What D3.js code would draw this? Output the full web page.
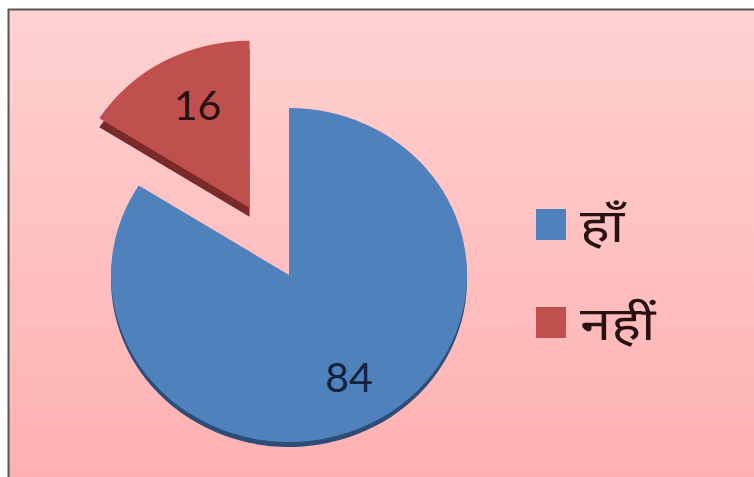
<!DOCTYPE html>
<html>
<head>
<meta charset="utf-8">
<script src="https://cdn.jsdelivr.net/npm/d3@7"></script>
<style>
  body { margin: 0; background: #fff; }
  svg { display: block; }
</style>
</head>
<body>
<svg id="chart" width="754" height="477"></svg>
<script>
// data
const categories = ["हाँ", "नहीं"];
const values = [84, 16];
const colors = ["#4f81bd", "#c0504d"];
const sideColors = ["#2b4d78", "#7a2b29"];

var svg = d3.select("#chart");
var W = 754, H = 477;

var defs = svg.append("defs");
var bg = defs.append("linearGradient").attr("id", "bg")
  .attr("x1", 0).attr("y1", 0).attr("x2", 0).attr("y2", 1);
bg.append("stop").attr("offset", "0%").attr("stop-color", "#ffd1d1");
bg.append("stop").attr("offset", "100%").attr("stop-color", "#ffb1b1");

svg.append("rect").attr("x", 8).attr("y", 9).attr("width", W - 8).attr("height", H - 9)
  .attr("fill", "url(#bg)");
svg.append("line").attr("x1", 8).attr("y1", 9.5).attr("x2", W).attr("y2", 9.5)
  .attr("stroke", "#555").attr("stroke-width", 2);
svg.append("line").attr("x1", 8.5).attr("y1", 9).attr("x2", 8.5).attr("y2", H)
  .attr("stroke", "#555").attr("stroke-width", 2);

// pie, drawn as unit circle then stretched into an ellipse
var cx = 289, cy = 275, rx = 178, ry = 167;
var depth = [5, 9];
var explode = [0, 0.46];

var pie = d3.pie().sort(null).value(d => d);
var arcs = pie(values);
var arc = d3.arc().innerRadius(0).outerRadius(1);

function mid(d) { return (d.startAngle + d.endAngle) / 2; }

var slices = svg.selectAll(".slice").data(arcs).enter().append("g")
  .attr("class", "slice")
  .attr("transform", (d, i) => {
    var a = mid(d);
    var ox = Math.sin(a) * explode[i] * rx, oy = -Math.cos(a) * explode[i] * ry;
    return "translate(" + (cx + ox) + "," + (cy + oy) + ")";
  });

// side (3d depth)
slices.append("path")
  .attr("transform", (d, i) => "translate(0," + depth[i] + ") scale(" + rx + "," + ry + ")")
  .attr("d", arc)
  .attr("fill", (d, i) => sideColors[i]);

// top face
slices.append("path")
  .attr("transform", "scale(" + rx + "," + ry + ")")
  .attr("d", arc)
  .attr("fill", (d, i) => colors[i]);

// value labels
slices.append("text")
  .attr("x", d => Math.sin(mid(d)) * 0.7 * rx + (d.index == 1 ? 8 : 0))
  .attr("y", d => -Math.cos(mid(d)) * 0.7 * ry)
  .attr("dy", "0.36em")
  .attr("text-anchor", "middle")
  .attr("font-family", "Lato, 'Open Sans', sans-serif")
  .attr("font-size", 41)
  .attr("fill", (d, i) => i == 0 ? "#13233d" : "#2a0f0e")
  .text(d => d.data);

// legend
var legend = svg.selectAll(".legend").data(categories).enter().append("g")
  .attr("class", "legend")
  .attr("transform", (d, i) => "translate(536," + (209 + i * 98) + ")");
legend.append("rect")
  .attr("width", 30).attr("height", 31)
  .attr("fill", (d, i) => colors[i]);
legend.append("text")
  .attr("transform", "translate(44,33) scale(1.22,1)")
  .attr("font-family", "'Noto Sans Devanagari', Mangal, 'Noto Sans', sans-serif")
  .attr("font-size", 46)
  .attr("fill", "#2a1212")
  .text(d => d);
</script>
</body>
</html>
